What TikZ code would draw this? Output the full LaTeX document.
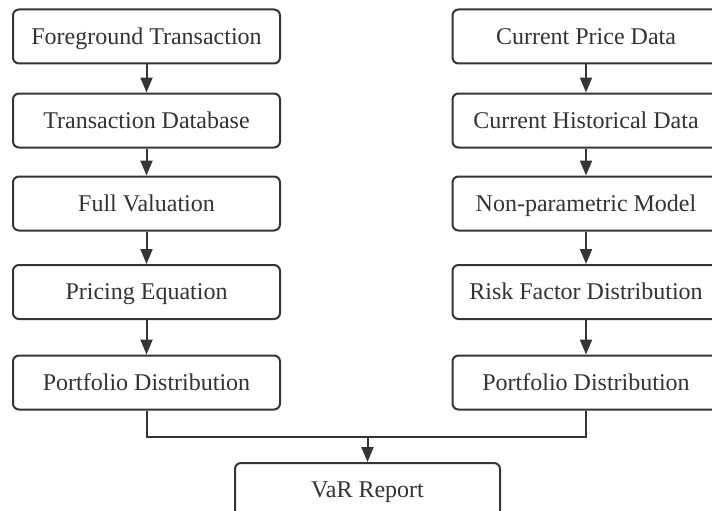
\documentclass[tikz,border=0pt]{standalone}
\usepackage{fontspec}
\setmainfont{Liberation Serif}
\usetikzlibrary{arrows.meta}
\definecolor{ln}{HTML}{353535}
\definecolor{tx}{HTML}{333333}
\begin{document}
\begin{tikzpicture}[x=1pt,y=-1pt,
  box/.style={draw=ln,line width=2pt,rounded corners=6pt,minimum width=267pt,minimum height=54pt,inner sep=0pt,text height=15.9pt,text depth=0pt,text=tx,font=\fontsize{24pt}{27pt}\selectfont,fill=white},
  arr/.style={draw=ln,line width=2pt,-{Triangle[length=15pt,width=12pt]}},
  ln2/.style={draw=ln,line width=2pt}]
\useasboundingbox (0,0) rectangle (712,511);
\node[box] (l1) at (146.5,36.5) {Foreground Transaction};
\node[box] (l2) at (146.5,120.5) {Transaction Database};
\node[box] (l3) at (146.5,203.5) {Full Valuation};
\node[box] (l4) at (146.5,292) {Pricing Equation};
\node[box] (l5) at (146.5,382.5) {Portfolio Distribution};
\node[box] (r1) at (586,36.5) {Current Price Data};
\node[box] (r2) at (586,120.5) {Current Historical Data};
\node[box] (r3) at (586,203.5) {Non-parametric Model};
\node[box] (r4) at (586,292) {Risk Factor Distribution};
\node[box] (r5) at (586,382.5) {Portfolio Distribution};
\node[box,minimum width=265pt] (v) at (367.5,490) {VaR Report};
\coordinate (j) at (367.5,437);
\draw[arr] (l1) -- (l2);
\draw[arr] (l2) -- (l3);
\draw[arr] (l3) -- (l4);
\draw[arr] (l4) -- (l5);
\draw[arr] (r1) -- (r2);
\draw[arr] (r2) -- (r3);
\draw[arr] (r3) -- (r4);
\draw[arr] (r4) -- (r5);
\draw[ln2] (l5.south) |- (j) -| (r5.south);
\draw[arr] (j) -- (v);
\end{tikzpicture}
\end{document}
